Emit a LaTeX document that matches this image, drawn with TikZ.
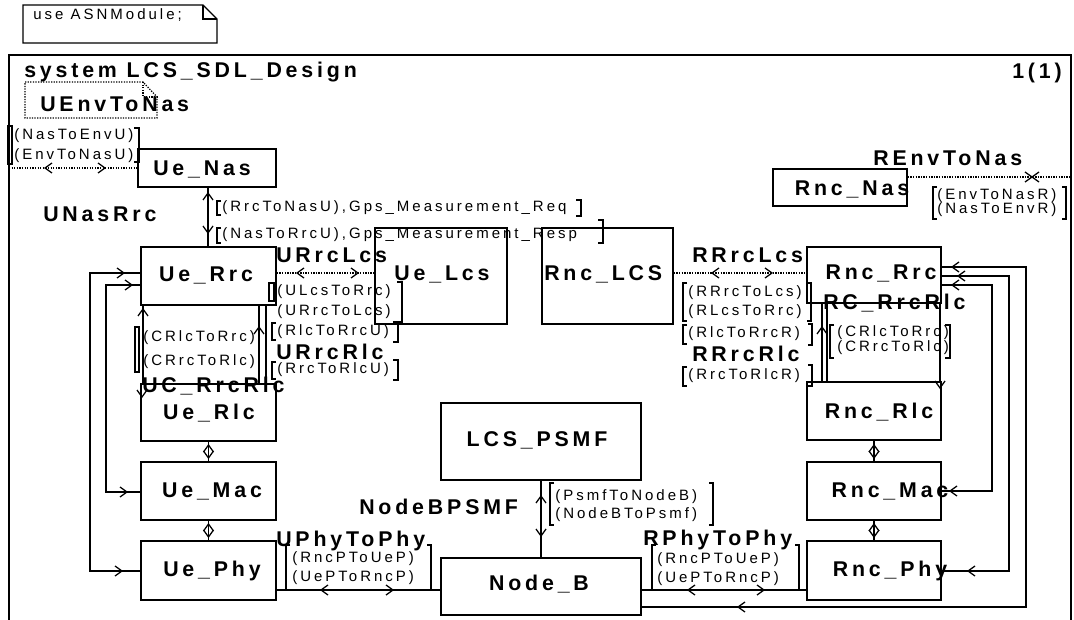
\documentclass[tikz,border=0pt]{standalone}
\usepackage{fontspec}
\setmainfont{Liberation Sans}
\newfontfamily\wfont[LetterSpace=18]{Liberation Sans}
\newfontfamily\sfont[LetterSpace=20]{Liberation Sans}
\usetikzlibrary{fit}
\begin{document}
\begin{tikzpicture}[x=0.75pt,y=-0.75pt,
  blk/.style={draw, line width=1.3pt, inner sep=0pt},
  ln/.style={line width=0.95pt},
  dln/.style={line width=0.95pt, densely dotted},
  brk/.style={line width=0.95pt},
  bigt/.style={font=\wfont\bfseries\fontsize{16}{18}\selectfont, inner sep=0pt},
  smt/.style={font=\sfont\fontsize{11.25}{13}\selectfont, inner sep=0pt},
  chev/.pic={\draw[line width=0.95pt] (-7,-5) -- (0,0) -- (-7,5);}
]
\useasboundingbox (0,0) rectangle (1074,620);
% frame
\draw[line width=1.3pt] (9,625) -- (9,55) -- (1071,55) -- (1071,625);
% use box
\draw[ln] (23,5) -- (203,5) -- (217,19) -- (217,43) -- (23,43) -- cycle;
\draw[ln] (203,5) |- (217,19);
\node[smt,anchor=west] (tUse) at (33,15) {use ASNModule;};
\node[bigt,anchor=west] (tTitle) at (24,72) {system LCS\_SDL\_Design};
\node[bigt,anchor=east] (tPage) at (1062,73) {1(1)};
% UEnvToNas text symbol
\draw[dln] (25,82) -- (143,82) -- (157,97) -- (157,118) -- (25,118) -- cycle;
\draw[dln] (143,82) |- (157,97);
\node[bigt,anchor=west] (tUEnv) at (40,104) {UEnvToNas};

% blocks
\node[blk, fit={(138,149) (276,187)}] (uenas) {};
\node[blk, fit={(141,247) (276,305)}] (uerrc) {};
\node[blk, fit={(375,228) (507,324)}] (uelcs) {};
\node[blk, fit={(542,228) (673,324)}] (rnclcs) {};
\node[blk, fit={(807,247) (941,303)}] (rncrrc) {};
\node[blk, fit={(773,169) (907,206)}] (rncnas) {};
\node[blk, fit={(141,384) (276,441)}] (uerlc) {};
\node[blk, fit={(141,462) (276,520)}] (uemac) {};
\node[blk, fit={(141,541) (276,600)}] (uephy) {};
\node[blk, fit={(807,382) (941,440)}] (rncrlc) {};
\node[blk, fit={(807,462) (941,520)}] (rncmac) {};
\node[blk, fit={(807,541) (941,600)}] (rncphy) {};
\node[blk, fit={(441,403) (641,480)}] (psmf) {};
\node[blk, fit={(441,558) (641,615)}] (nodeb) {};

% block names
\node[bigt] (nUeNas) at (202,169) {Ue\_Nas};
\node[bigt] (nUeRrc) at (206,275) {Ue\_Rrc};
\node[bigt] (nUeLcs) at (442,274) {Ue\_Lcs};
\node[bigt,anchor=west] (nRncLcs) at (544,274) {Rnc\_LCS};
\node[bigt] (nRncRrc) at (881,273) {Rnc\_Rrc};
\node[bigt] (nRncNas) at (852,189) {Rnc\_Nas};
\node[bigt] (nUeRlc) at (209,413) {Ue\_Rlc};
\node[bigt] (nRncRlc) at (879,412) {Rnc\_Rlc};
\node[bigt] (nUeMac) at (212,491) {Ue\_Mac};
\node[bigt] (nRncMac) at (890,491) {Rnc\_Mac};
\node[bigt] (nUePhy) at (212,571) {Ue\_Phy};
\node[bigt] (nRncPhy) at (890,571) {Rnc\_Phy};
\node[bigt] (nPsmf) at (537,440) {LCS\_PSMF};
\node[bigt] (nNodeB) at (539,584) {Node\_B};

% channel names
\node[bigt,anchor=west] (cUNR) at (43,214) {UNasRrc};
\node[bigt,anchor=west] (cURL) at (276,255) {URrcLcs};
\node[bigt,anchor=west] (cRRL) at (692,255) {RRrcLcs};
\node[bigt,anchor=west] (cREN) at (873,158) {REnvToNas};
\node[bigt,anchor=west] (cRC) at (823,303) {RC\_RrcRlc};
\node[bigt,anchor=west] (cURR) at (276,352) {URrcRlc};
\node[bigt,anchor=west] (cRRR) at (692,354) {RRrcRlc};
\node[bigt,anchor=west] (cUC) at (142,386) {UC\_RrcRlc};
\node[bigt,anchor=west] (cNBP) at (359,507) {NodeBPSMF};
\node[bigt,anchor=west] (cUPP) at (276,541) {UPhyToPhy};
\node[bigt,anchor=west] (cRPP) at (643,540) {RPhyToPhy};

% signal lists
\node[smt,anchor=west] (sNE) at (14,136) {(NasToEnvU)};
\node[smt,anchor=west] (sEN) at (14,156) {(EnvToNasU)};
\node[smt,anchor=west] (s1) at (222,208) {(RrcToNasU),Gps\_Measurement\_Req};
\node[smt,anchor=west] (s2) at (222,235) {(NasToRrcU),Gps\_Measurement\_Resp};
\node[smt,anchor=west] (s3) at (277,292) {(ULcsToRrc)};
\node[smt,anchor=west] (s4) at (277,312) {(URrcToLcs)};
\node[smt,anchor=west] (s5) at (277,332) {(RlcToRrcU)};
\node[smt,anchor=west] (s6) at (277,370) {(RrcToRlcU)};
\node[smt,anchor=west] (s7) at (143,338) {(CRlcToRrc)};
\node[smt,anchor=west] (s8) at (143,362) {(CRrcToRlc)};
\node[smt,anchor=west] (s9) at (688,293) {(RRrcToLcs)};
\node[smt,anchor=west] (s10) at (688,312) {(RLcsToRrc)};
\node[smt,anchor=west] (s11) at (688,334) {(RlcToRrcR)};
\node[smt,anchor=west] (s12) at (688,376) {(RrcToRlcR)};
\node[smt,anchor=west] (s13) at (837,333) {(CRlcToRrc)};
\node[smt,anchor=west] (s14) at (837,348) {(CRrcToRlc)};
\node[smt,anchor=west] (s15) at (937,196) {(EnvToNasR)};
\node[smt,anchor=west] (s16) at (937,210) {(NasToEnvR)};
\node[smt,anchor=west] (s17) at (555,497) {(PsmfToNodeB)};
\node[smt,anchor=west] (s18) at (555,515) {(NodeBToPsmf)};
\node[smt,anchor=west] (s19) at (292,559) {(RncPToUeP)};
\node[smt,anchor=west] (s20) at (292,578) {(UePToRncP)};
\node[smt,anchor=west] (s21) at (657,560) {(RncPToUeP)};
\node[smt,anchor=west] (s22) at (657,579) {(UePToRncP)};

% brackets
\draw[brk] (8,126) rectangle (12,164);
\draw[brk] (134,128) -| (139,162) -- (134,162);
\draw[brk] (221,201) -| (217,215) -- (221,215);
\draw[brk] (576,200) -| (581,216) -- (576,216);
\draw[brk] (221,228) -| (217,243) -- (221,243);
\draw[brk] (598,220) -| (603,243) -- (598,243);
\draw[brk] (269,283) rectangle (274,301);
\draw[brk] (397,282) -| (402,322) -- (397,322);
\draw[brk] (276,323) -| (272,340) -- (276,340);
\draw[brk] (393,322) -| (398,342) -- (393,342);
\draw[brk] (276,362) -| (272,379) -- (276,379);
\draw[brk] (393,360) -| (398,380) -- (393,380);
\draw[brk] (135,327) rectangle (139,372);
\draw[brk] (290,545) -| (286,590);
\draw[brk] (427,545) -| (431,590);
\draw[brk] (656,545) -| (652,590);
\draw[brk] (795,545) -| (799,590);
\draw[brk] (554,483) -| (550,525) -- (554,525);
\draw[brk] (709,483) -| (713,525) -- (709,525);
\draw[brk] (687,283) -| (683,321) -- (687,321);
\draw[brk] (807,283) -| (811,321) -- (807,321);
\draw[brk] (687,325) -| (683,344) -- (687,344);
\draw[brk] (808,324) -| (812,345) -- (808,345);
\draw[brk] (687,367) -| (683,386) -- (687,386);
\draw[brk] (808,365) -| (812,386) -- (808,386);
\draw[brk] (834,325) -| (830,358) -- (834,358);
\draw[brk] (945,325) -| (950,358) -- (945,358);
\draw[brk] (937,187) -| (933,219) -- (937,219);
\draw[brk] (1062,187) -| (1066,219) -- (1062,219);

% environment channels
\coordinate (envU) at (9,168);
\draw[dln] (envU) -- (uenas.west |- envU);
\pic[rotate=180] at (45,168) {chev};
\pic at (105,168) {chev};
\coordinate (envR) at (1071,177);
\draw[dln] (rncnas.east |- envR) -- (envR);
\pic at (1032,177) {chev};
\pic[rotate=180] at (1032,177) {chev};

% UNasRrc
\draw[ln] (uenas.south -| 208,0) -- (uerrc.north -| 208,0);
\pic[rotate=90] at (208,193) {chev};
\pic[rotate=-90] at (208,233) {chev};

% Lcs channels
\draw[dln] (uerrc.east |- 0,273) -- (uelcs.west |- 0,273);
\pic[rotate=180] at (297,273) {chev};
\pic at (358,273) {chev};
\draw[dln] (rnclcs.east |- 0,273) -- (rncrrc.west |- 0,273);
\pic[rotate=180] at (712,273) {chev};
\pic at (772,273) {chev};

% Phy channels
\draw[ln] (uephy.east |- 0,590) -- (nodeb.west |- 0,590);
\pic[rotate=180] at (321,590) {chev};
\pic at (393,590) {chev};
\draw[ln] (nodeb.east |- 0,590) -- (rncphy.west |- 0,590);
\pic[rotate=180] at (688,590) {chev};
\pic at (764,590) {chev};

% NodeBPSMF
\draw[ln] (psmf.south) -- (nodeb.north);
\pic[rotate=90] at (541,496) {chev};
\pic[rotate=-90] at (541,536) {chev};

% Rlc-Mac-Phy diamonds
\draw[ln] (uerlc.south) -- (uemac.north);
\pic[rotate=90] at (208.5,445) {chev};
\pic[rotate=-90] at (208.5,458) {chev};
\draw[ln] (uemac.south) -- (uephy.north);
\pic[rotate=90] at (208.5,524) {chev};
\pic[rotate=-90] at (208.5,537) {chev};
\draw[ln] (rncrlc.south) -- (rncmac.north);
\pic[rotate=90] at (874,445) {chev};
\pic[rotate=-90] at (874,458) {chev};
\draw[ln] (rncmac.south) -- (rncphy.north);
\pic[rotate=90] at (874,524) {chev};
\pic[rotate=-90] at (874,537) {chev};

% left loops
\coordinate (lo1) at (90,273); \coordinate (lo2) at (90,571);
\draw[ln] (uerrc.west |- lo1) -- (lo1) -- (lo2) -- (uephy.west |- lo2);
\pic at (124,273) {chev};
\pic at (122,571) {chev};
\coordinate (li1) at (106,285); \coordinate (li2) at (106,492);
\draw[ln] (uerrc.west |- li1) -- (li1) -- (li2) -- (uemac.west |- li2);
\pic at (132,285) {chev};
\pic at (127,492) {chev};

% right loops
\coordinate (ro1) at (1026,267); \coordinate (ro2) at (1026,607);
\draw[ln] (rncrrc.east |- ro1) -- (ro1) -- (ro2) -- (nodeb.east |- ro2);
\pic[rotate=180] at (952,267) {chev};
\pic[rotate=180] at (738,607) {chev};
\coordinate (rm1) at (1009,276); \coordinate (rm2) at (1009,571);
\draw[ln] (rncrrc.east |- rm1) -- (rm1) -- (rm2) -- (rncphy.east |- rm2);
\pic[rotate=180] at (958,276) {chev};
\pic[rotate=180] at (968,571) {chev};
\coordinate (ri1) at (992,285); \coordinate (ri2) at (992,491);
\draw[ln] (rncrrc.east |- ri1) -- (ri1) -- (ri2) -- (rncmac.east |- ri2);
\pic[rotate=180] at (952,285) {chev};
\pic[rotate=180] at (950,491) {chev};

% Rrc-Rlc channels
\draw[ln] (uerrc.south -| 143,0) -- (uerlc.north -| 143,0);
\pic[rotate=90] at (143,309) {chev};
\pic[rotate=-90] at (142,397) {chev};
\draw[ln] (uerrc.south -| 259,0) -- (uerlc.north -| 259,0);
\pic[rotate=90] at (259,327) {chev};
\draw[ln] (uerrc.south -| 266,0) -- (uerlc.north -| 266,0);
\draw[ln] (rncrrc.south -| 822,0) -- (rncrlc.north -| 822,0);
\pic[rotate=90] at (822,327) {chev};
\draw[ln] (rncrrc.south -| 827,0) -- (rncrlc.north -| 827,0);
\draw[ln] (rncrrc.south -| 940,0) -- (rncrlc.north -| 940,0);
\pic[rotate=-90] at (940,388) {chev};
\end{tikzpicture}
\end{document}
